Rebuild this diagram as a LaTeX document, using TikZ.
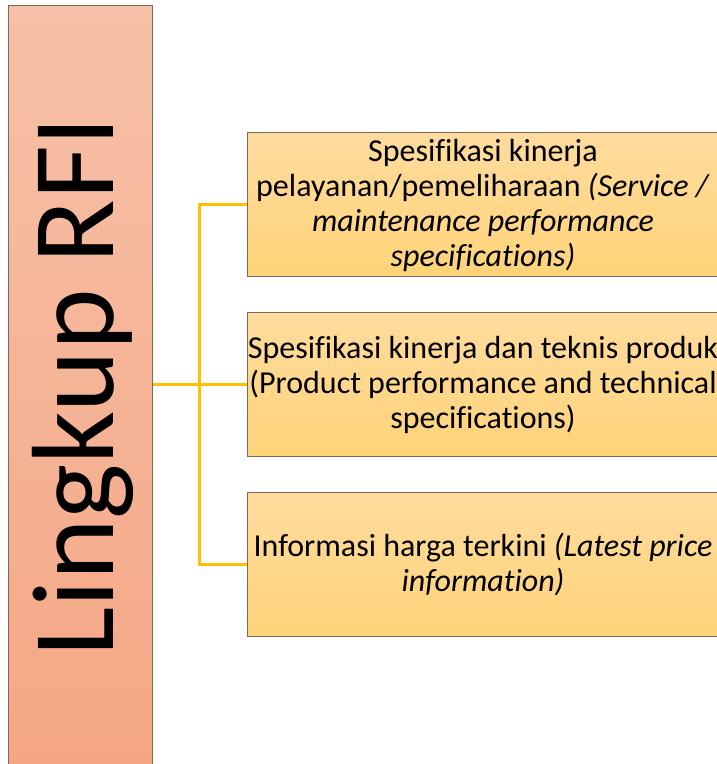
\documentclass[tikz,border=0pt]{standalone}
\usepackage{fontspec}
\setmainfont{Carlito}[RawFeature={-liga;-clig;-calt;-dlig}]
\definecolor{boxline}{HTML}{7A6A58}
\definecolor{lefttop}{HTML}{F6C1A8}
\definecolor{leftbot}{HTML}{F5A684}
\definecolor{itemtop}{HTML}{FFDC9E}
\definecolor{itembot}{HTML}{FED378}
\definecolor{connc}{HTML}{FFC000}
\begin{document}
\begin{tikzpicture}[x=1bp,y=1bp,
  leftbox/.style={draw=boxline, line width=1bp, top color=lefttop, bottom color=leftbot,
    minimum width=144bp, minimum height=780bp, anchor=north west, inner sep=0pt},
  itembox/.style={draw=boxline, line width=1bp, top color=itemtop, bottom color=itembot,
    minimum width=472bp, minimum height=144bp, inner sep=0pt, align=center,
    font=\fontsize{32bp}{35bp}\selectfont},
  bigtext/.style={rotate=90, anchor=base, inner sep=0pt, font=\fontsize{117bp}{120bp}\selectfont},
  conn/.style={draw=connc, line width=3bp, line join=miter}]
\useasboundingbox (0,0) rectangle (717,764);
\clip (0,0) rectangle (717,764);
\node (L) [leftbox] at (7.5,758.7) {};
\node (T) [bigtext] at (113,377.5) {Lingkup RFI};
\node (B1) [itembox] at (483,559) {Spesifikasi kinerja\\pelayanan/pemeliharaan \textit{(Service /}\\\textit{maintenance performance}\\\textit{specifications)}};
\node (B2) [itembox] at (483,379) {Spesifikasi kinerja dan teknis produk\\(Product performance and technical\\specifications)};
\node (B3) [itembox] at (483,199) {Informasi harga terkini \textit{(Latest price}\\\textit{information)}};
\coordinate (J1) at (199,559);
\coordinate (J3) at (199,199);
\draw[conn] (L.east |- B2.west) -- (B2.west);
\draw[conn] (B1.west) -- (J1) -- (J3) -- (B3.west);
\end{tikzpicture}
\end{document}
